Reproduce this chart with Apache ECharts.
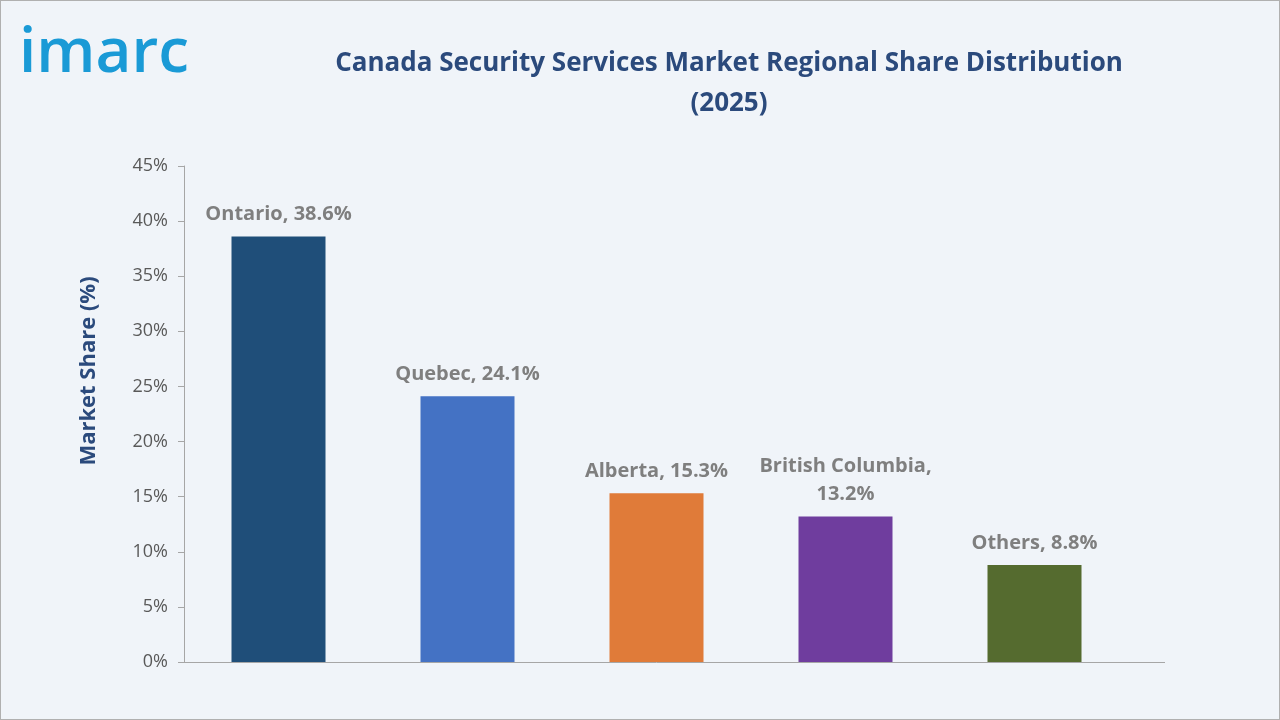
<!DOCTYPE html>
<html><head><meta charset="utf-8">
<script src="https://cdn.jsdelivr.net/npm/echarts@6/dist/echarts.min.js"></script>
<style>
html,body{margin:0;padding:0;background:#f0f4f9;}
#wrap{position:absolute;left:0;top:0;width:1278px;height:718px;border:1px solid #b0b0b0;background:#f0f4f9;}
#chart{width:1278px;height:718px;}
</style></head>
<body><div id="wrap"><div id="chart"></div></div>
<script>
var regions = ['Ontario', 'Quebec', 'Alberta', 'British Columbia', 'Others'];
var shares = [38.6, 24.1, 15.3, 13.2, 8.8];
var colors = ['#1f4e79', '#4472c4', '#e07b39', '#6f3d9e', '#556b2f'];
var labelText = ['Ontario, 38.6%', 'Quebec, 24.1%', 'Alberta, 15.3%', 'British Columbia,\n13.2%', 'Others, 8.8%'];

var chart = echarts.init(document.getElementById('chart'));
chart.setOption({
    backgroundColor: '#f0f4f9',
    graphic: [{
        type: 'text', left: 18, top: 22,
        style: {text: 'imarc', font: '600 62px "Open Sans", sans-serif', fill: '#1a9ad6'}
    }, {
        // axis line continues past the last category
        type: 'line', shape: {x1: 1125, y1: 661.5, x2: 1164, y2: 661.5},
        style: {stroke: '#a6a6a6', lineWidth: 1}
    }, {
        type: 'text', x: 88, y: 370, rotation: Math.PI / 2,
        style: {text: 'Market Share (%)', fill: '#2b4a7c', font: 'bold 22px "Open Sans"', align: 'center', verticalAlign: 'middle'}
    }],
    title: {
        text: 'Canada Security Services Market Regional Share Distribution\n(2025)',
        left: 723, top: 38, textAlign: 'center',
        textStyle: {color: '#2b4a7c', fontSize: 26, fontWeight: 'bold', lineHeight: 40, fontFamily: 'Open Sans'}
    },
    grid: {left: 183, right: 150, top: 165, bottom: 57},
    xAxis: {
        type: 'category', data: regions,
        axisLine: {lineStyle: {color: '#a6a6a6'}},
        axisTick: {show: false}, axisLabel: {show: false}
    },
    yAxis: {
        type: 'value', min: 0, max: 45, interval: 5,
        axisLine: {show: true, lineStyle: {color: '#a6a6a6'}},
        axisTick: {show: true, length: 6, lineStyle: {color: '#a6a6a6'}},
        splitLine: {show: false},
        axisLabel: {formatter: '{value}%', color: '#595959', fontSize: 18, fontFamily: 'Open Sans', margin: 16}
    },
    series: [{
        type: 'bar', barWidth: 94,
        data: shares.map(function (v, i) {
            return {value: v, itemStyle: {color: colors[i]}};
        }),
        label: {
            show: true, position: 'top', distance: 8,
            color: '#7f7f7f', fontSize: 20, fontWeight: 'bold', fontFamily: 'Open Sans', lineHeight: 28,
            formatter: function (p) { return labelText[p.dataIndex]; }
        }
    }]
});
</script></body></html>
